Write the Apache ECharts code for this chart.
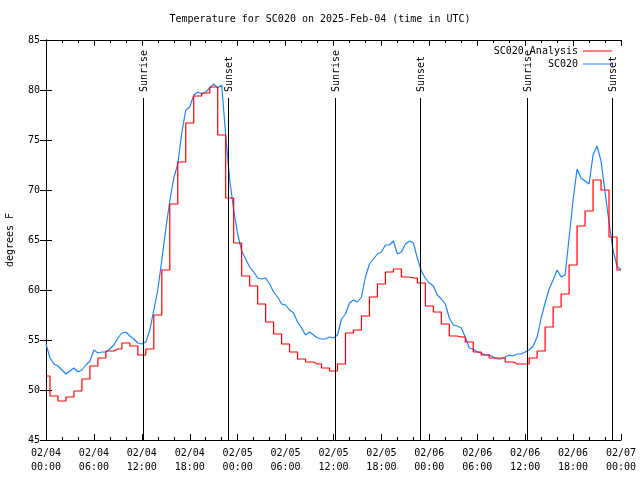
<!DOCTYPE html>
<html>
<head>
<meta charset="utf-8">
<script src="https://cdn.jsdelivr.net/npm/echarts@6/dist/echarts.min.js"></script>
<style>html,body{margin:0;padding:0;background:#fff}#c{width:640px;height:480px}</style>
</head>
<body>
<div id="c"></div>
<script>
// Hours since 02/04 00:00 UTC
const xTickLabels = ['02/04\n00:00','02/04\n06:00','02/04\n12:00','02/04\n18:00',
  '02/05\n00:00','02/05\n06:00','02/05\n12:00','02/05\n18:00',
  '02/06\n00:00','02/06\n06:00','02/06\n12:00','02/06\n18:00','02/07\n00:00'];

// SC020 Analysis: hourly values, hour 0..72
const analysisValues = [
  51.4,49.4,48.9,49.3,49.9,51.1,52.4,53.2,53.9,54.1,
  54.7,54.4,53.5,54.1,57.5,62.0,68.6,72.8,76.7,79.4,
  79.7,80.3,75.5,69.2,64.7,61.4,60.4,58.6,56.8,55.6,
  54.6,53.8,53.1,52.8,52.6,52.2,51.9,52.6,55.7,56.0,
  57.4,59.3,60.6,61.8,62.1,61.3,61.2,60.7,58.4,57.8,
  56.6,55.4,55.3,54.8,53.8,53.5,53.2,53.2,52.8,52.6,
  52.6,53.2,53.9,56.3,58.3,59.6,62.5,66.4,67.9,71.0,
  70.0,65.3,62.0];

// SC020 observations: every 30 minutes, hour 0..72
const obsValues = [
  54.6,53.2,52.6,52.4,52.0,51.6,51.9,52.2,51.8,52.0,
  52.5,52.9,54.0,53.7,53.8,53.8,54.1,54.5,55.2,55.7,
  55.8,55.4,55.1,54.7,54.6,54.8,56.0,58.0,60.0,63.0,
  66.1,68.9,71.2,72.6,75.7,78.0,78.3,79.5,79.8,79.6,
  79.8,80.2,80.6,80.2,80.5,75.5,71.0,68.0,65.6,63.9,
  63.1,62.3,61.8,61.2,61.1,61.2,60.6,59.8,59.3,58.6,
  58.5,58.0,57.7,56.8,56.2,55.5,55.8,55.5,55.2,55.1,
  55.1,55.3,55.2,55.5,57.1,57.6,58.7,59.0,58.8,59.3,
  61.3,62.6,63.1,63.6,63.8,64.5,64.5,64.9,63.6,63.8,
  64.6,64.9,64.7,63.2,61.9,61.2,60.7,60.4,59.5,59.1,
  58.6,57.2,56.5,56.4,56.2,55.3,54.2,54.1,53.8,53.7,
  53.5,53.5,53.3,53.1,53.1,53.3,53.5,53.4,53.6,53.6,
  53.8,54.0,54.4,55.3,57.2,58.7,60.1,61.0,62.0,61.3,
  61.5,65.2,69.0,72.1,71.2,70.9,70.6,73.5,74.4,72.9,
  69.8,66.8,64.0,62.4,62.0];

const sunriseHours = [12.18, 36.15, 60.18];
const sunsetHours = [22.73, 46.77, 70.82];
const sunLabels = ['Sunrise', 'Sunset'];

const FONT = '"DejaVu Sans Mono", "Liberation Mono", monospace';

const analysisData = analysisValues.map((v, i) => [i, v]);
const obsData = obsValues.map((v, i) => [i * 0.5, v]);
const sunData = sunriseHours.map(h => [h, 0]).concat(sunsetHours.map(h => [h, 1]));

const chart = echarts.init(document.getElementById('c'), null, {renderer: 'canvas'});

const axisCommon = {
  axisLine: {show: true, lineStyle: {color: '#000', width: 1}},
  splitLine: {show: false}
};

chart.setOption({
  animation: false,
  backgroundColor: '#fff',
  title: {
    text: 'Temperature for SC020 on 2025-Feb-04 (time in UTC)',
    left: 'center', top: 14, padding: 0,
    textStyle: {fontFamily: FONT, fontSize: 10, fontWeight: 'normal', color: '#000'}
  },
  legend: [
    {data: ['SC020 Analysis'], right: 28, top: 46, padding: 0, icon: 'rect', align: 'right',
     itemWidth: 29, itemHeight: 1, selectedMode: false,
     textStyle: {fontFamily: FONT, fontSize: 10, color: '#000'}},
    {data: ['SC020'], right: 28, top: 59, padding: 0, icon: 'rect', align: 'right',
     itemWidth: 29, itemHeight: 1, selectedMode: false,
     textStyle: {fontFamily: FONT, fontSize: 10, color: '#000'}}
  ],
  grid: {left: 46, right: 19, top: 40, bottom: 40, containLabel: false, outerBoundsMode: 'none'},
  xAxis: [
    Object.assign({}, axisCommon, {
      type: 'value', min: 0, max: 72, interval: 6, position: 'bottom',
      axisTick: {show: true, inside: true, length: 6, lineStyle: {color: '#000'}},
      minorTick: {show: true, splitNumber: 3, length: 3, lineStyle: {color: '#000'}},
      axisLabel: {
        fontFamily: FONT, fontSize: 10, color: '#000', lineHeight: 14, margin: 6,
        formatter: v => xTickLabels[Math.round(v / 6)]
      }
    }),
    Object.assign({}, axisCommon, {
      type: 'value', min: 0, max: 72, interval: 6, position: 'top',
      axisTick: {show: true, inside: true, length: 6, lineStyle: {color: '#000'}},
      minorTick: {show: true, splitNumber: 3, length: 3, lineStyle: {color: '#000'}},
      axisLabel: {show: false}
    })
  ],
  yAxis: [
    Object.assign({}, axisCommon, {
      type: 'value', min: 45, max: 85, interval: 5, position: 'left',
      name: 'degrees F', nameLocation: 'middle', nameGap: 31, nameRotate: 90,
      nameTextStyle: {fontFamily: FONT, fontSize: 10, color: '#000'},
      axisTick: {show: true, inside: true, length: 6, lineStyle: {color: '#000'}},
      axisLabel: {fontFamily: FONT, fontSize: 10, color: '#000', margin: 6}
    }),
    Object.assign({}, axisCommon, {
      type: 'value', min: 45, max: 85, interval: 5, position: 'right',
      axisTick: {show: true, inside: true, length: 6, lineStyle: {color: '#000'}},
      axisLabel: {show: false}
    })
  ],
  series: [
    {
      name: 'SC020 Analysis', type: 'line', step: 'middle', data: analysisData,
      symbol: 'none', color: '#ff0000', lineStyle: {color: '#ff0000', width: 1.2},
      xAxisIndex: 0, yAxisIndex: 0, z: 3
    },
    {
      name: 'SC020', type: 'line', data: obsData,
      symbol: 'none', color: '#1884ff', lineStyle: {color: '#1884ff', width: 1.2},
      xAxisIndex: 0, yAxisIndex: 0, z: 2
    },
    {
      type: 'custom', data: sunData, xAxisIndex: 0, yAxisIndex: 0, z: 4,
      encode: {x: 0},
      renderItem: function (params, api) {
        const h = api.value(0);
        const name = sunLabels[api.value(1)];
        const p0 = api.coord([h, 45]);
        const p1 = api.coord([h, 79.2]);
        const pt = api.coord([h, 79.8]);
        const x = Math.round(p0[0]) + 0.5;
        return {
          type: 'group',
          children: [
            {type: 'line', shape: {x1: x, y1: p0[1], x2: x, y2: p1[1]},
             style: {stroke: '#000', lineWidth: 1}},
            {type: 'text', x: x + 1, y: pt[1], rotation: Math.PI / 2,
             style: {text: name, fill: '#000', font: '10px ' + FONT,
                     align: 'left', verticalAlign: 'middle'}}
          ]
        };
      }
    }
  ]
});
</script>
</body>
</html>
